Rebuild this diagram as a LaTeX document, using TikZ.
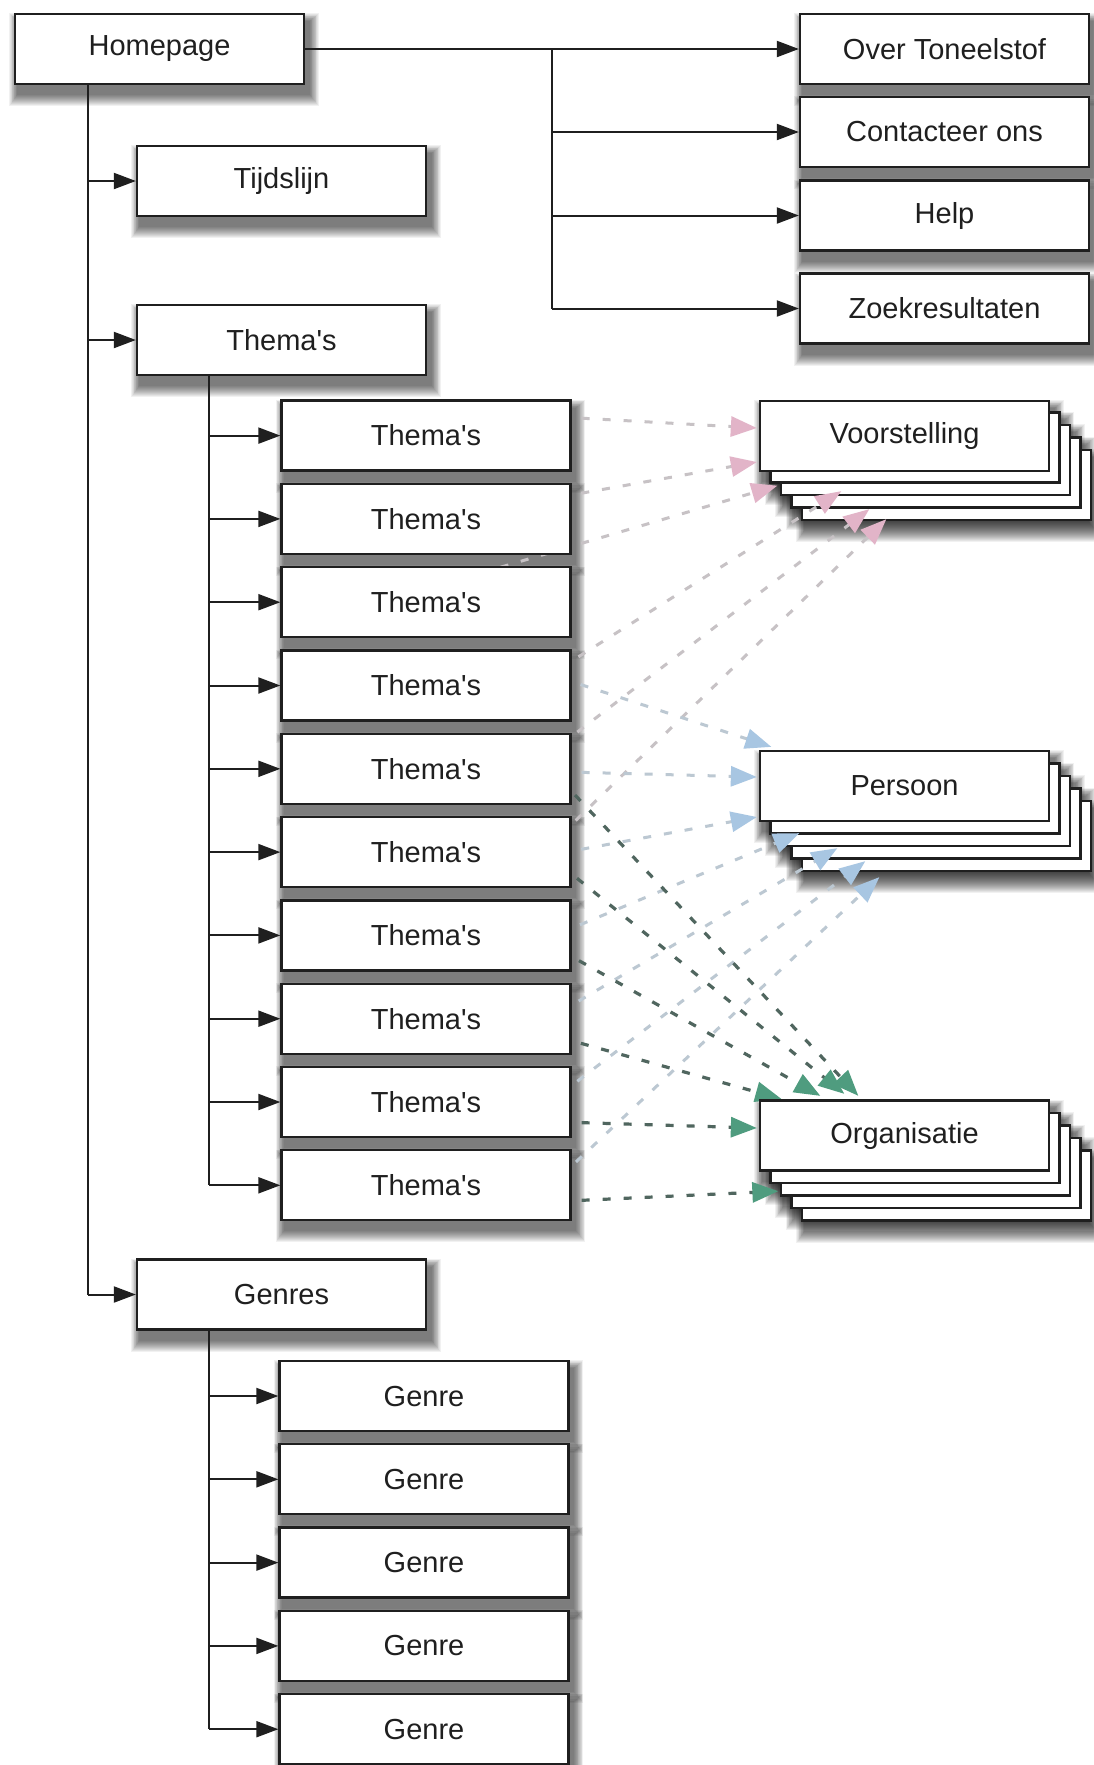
\documentclass[tikz,border=0pt]{standalone}
\usepackage{fontspec}
\setmainfont{Liberation Sans}
\usetikzlibrary{arrows.meta,calc}
\pgfdeclarelayer{shadowlayer}
\pgfdeclarelayer{stacklayer}
\pgfdeclarelayer{linelayer}
\pgfsetlayers{shadowlayer,stacklayer,linelayer,main}
\definecolor{ink}{HTML}{1F1F1F}
\definecolor{pinkhead}{HTML}{E2B4C8}
\definecolor{pinkdash}{HTML}{C7C2C5}
\definecolor{bluehead}{HTML}{A8C6E2}
\definecolor{bluedash}{HTML}{BCC8D2}
\definecolor{greenhead}{HTML}{4F9C7F}
\definecolor{greendash}{HTML}{50665F}
\begin{document}
\begin{tikzpicture}[x=1pt,y=-1pt,
  box/.style={draw=ink, line width=2.3pt, fill=white, minimum width=289pt, minimum height=70pt, inner sep=0pt, font=\fontsize{29}{34}\selectfont, text=ink},
  trunk/.style={draw=ink, line width=2pt},
  tree/.style={draw=ink, line width=2pt, -{Triangle[length=22pt,width=16pt]}},
  pinkln/.style={draw=pinkdash, line width=3pt, dash pattern=on 8pt off 13pt, -{Triangle[length=26pt,width=20pt,color=pinkhead]}},
  blueln/.style={draw=bluedash, line width=3pt, dash pattern=on 8pt off 13pt, -{Triangle[length=26pt,width=20pt,color=bluehead]}},
  greenln/.style={draw=greendash, line width=3.2pt, dash pattern=on 8pt off 13pt, -{Triangle[length=26pt,width=20pt,color=greenhead]}}
]
\useasboundingbox (0,0) rectangle (1093,1765);

% top level
\node[box] (home) at (159.5,49) {Homepage};
\node[box] (over) at (944.5,49) {Over Toneelstof};
\node[box] (cont) at (944.5,132) {Contacteer ons};
\node[box] (help) at (944.5,215.5) {Help};
\node[box] (zoek) at (944.5,308.5) {Zoekresultaten};
\node[box] (tijd) at (281.5,181) {Tijdslijn};
\node[box] (them) at (281.5,340) {Thema\textquotesingle s};
\node[box] (genres) at (281.5,1294.5) {Genres};
\foreach \i in {1,...,10}
  \node[box] (t\i) at (426,{435.6+(\i-1)*83.3}) {Thema\textquotesingle s};
\foreach \i in {1,...,5}
  \node[box] (g\i) at (424,{1396+(\i-1)*83.3}) {Genre};

% stacks
\begin{pgfonlayer}{stacklayer}
\foreach \k in {4,3,2,1}{
  \node[box] (vs\k) at ({904.5+10.5*\k},{435+12.5*\k}) {};
  \node[box] (ps\k) at ({904.5+10.5*\k},{786+12.5*\k}) {};
  \node[box] (os\k) at ({904.5+10.5*\k},{1135.5+12.5*\k}) {};
}
\end{pgfonlayer}
\node[box] (vs) at (904.5,436) {Voorstelling};
\node[box] (ps) at (904.5,786) {Persoon};
\node[box] (os) at (904.5,1135.5) {Organisatie};

% shadows
\begin{pgfonlayer}{shadowlayer}
\fill[white] (0,0) rectangle (1093,1765);
\foreach \n in {home,over,cont,help,zoek,tijd,them,genres,t1,t2,t3,t4,t5,t6,t7,t8,t9,t10,g1,g2,g3,g4,g5,vs,ps,os,vs1,vs2,vs3,vs4,ps1,ps2,ps3,ps4,os1,os2,os3,os4}{
  \foreach \i in {1,...,12}
    \fill[black,opacity=0.055] ([shift={(4-0.7*\i,9-0.7*\i)}]\n.north west) rectangle ([shift={(4+0.8*\i,9+\i)}]\n.south east);
}
\end{pgfonlayer}

% tree connectors
\coordinate (hx) at (88,0);
\coordinate (tx) at (209.4,0);
\coordinate (rx) at (551.6,0);
\draw[trunk] (home.south -| hx) -- (genres.west -| hx);
\draw[tree] (tijd.west -| hx) -- (tijd.west);
\draw[tree] (them.west -| hx) -- (them.west);
\draw[tree] (genres.west -| hx) -- (genres.west);
\draw[tree] (home.east) -- (over.west);
\draw[trunk] (home.east -| rx) -- (zoek.west -| rx);
\draw[tree] (cont.west -| rx) -- (cont.west);
\draw[tree] (help.west -| rx) -- (help.west);
\draw[tree] (zoek.west -| rx) -- (zoek.west);
\draw[trunk] (them.south -| tx) -- (t10.west -| tx);
\foreach \i in {1,...,10}
  \draw[tree] (t\i.west -| tx) -- (t\i.west);
\draw[trunk] (genres.south -| tx) -- (g5.west -| tx);
\foreach \i in {1,...,5}
  \draw[tree] (g\i.west -| tx) -- (g\i.west);

% dashed relation connectors
\begin{pgfonlayer}{linelayer}
\foreach \s/\sx/\sy/\e/\ex/\ey in {
  t1.east/-11/-18.6/vs.west/-2/-8,
  t2.east/-11/-22/vs.west/-2/26,
  t3.east/-71/-35/vs1.south west/8/2,
  t4.east/-11/-17.5/vs.south west/82.5/19,
  t5.east/-11/-24/vs.south west/110.5/37,
  t6.east/-11/-17/vs.south west/127.5/47}
  \draw[pinkln] ($(\s)+(\sx,\sy)$) -- ($(\e)+(\ex,\ey)$);
\foreach \s/\sx/\sy/\e/\ex/\ey in {
  t4.east/-11/-7.5/ps.north west/12.5/-3,
  t5.east/-11/3/ps.west/-2/-9,
  t6.east/-11/1/ps.west/-2/31,
  t7.east/-11/-2.5/ps.south west/40.5/11,
  t8.east/-11/-7/ps.south west/78.5/26,
  t9.east/-11/-8/ps.south west/106.5/39,
  t10.east/-11/-9/ps.south west/120.5/55}
  \draw[blueln] ($(\s)+(\sx,\sy)$) -- ($(\e)+(\ex,\ey)$);
\foreach \s/\sx/\sy/\e/\ex/\ey in {
  t5.east/-11/11/os.north west/99.5/-3.5,
  t6.east/-11/13/os.north west/85.5/-5.5,
  t7.east/-11/15/os.north west/61.5/-3.5,
  t8.east/-11/19/os.north west/22.5/-0.5,
  t9.east/-11/20/os.west/-2/-7.5,
  t10.east/-11/16/os2.south west/-1.5/-5.5}
  \draw[greenln] ($(\s)+(\sx,\sy)$) -- ($(\e)+(\ex,\ey)$);
\end{pgfonlayer}
\end{tikzpicture}
\end{document}
